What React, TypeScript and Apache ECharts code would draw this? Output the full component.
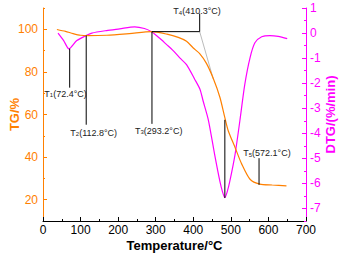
import React, { useEffect, useRef } from "react";
import * as echarts from "echarts";

// TG curve (temperature °C, mass %)
const tgT = [37, 60, 80, 100, 120, 170, 230, 289, 330, 360, 382, 400, 417, 435, 453, 471, 484, 493, 511, 529, 551, 577, 610, 648];
const tgV = [99.9, 99.0, 98.0, 97.2, 97.0, 97.2, 98.0, 98.9, 97.7, 96.2, 94.4, 91.2, 88.6, 84, 77, 68, 58.5, 52.4, 44.6, 36.7, 29.6, 27.3, 26.9, 26.5];

// DTG curve (temperature °C, %/min)
const dtgT = [40, 55, 69, 90, 116, 130, 169, 204, 244, 270, 289, 310, 329, 345, 364, 382, 404, 418, 426, 440, 457, 471, 478, 484, 490, 497, 511, 524, 537, 551, 564, 582, 604, 626, 650];
const dtgV = [0.0, -0.3, -0.63, -0.3, -0.09, 0.0, 0.1, 0.17, 0.25, 0.18, 0.05, -0.2, -0.46, -0.68, -0.99, -1.26, -1.85, -2.25, -2.7, -3.46, -4.86, -5.93, -6.35, -6.57, -6.35, -5.93, -4.86, -3.5, -2.06, -0.99, -0.39, -0.15, -0.1, -0.13, -0.22];

// Axis ticks
const xTicks = [0, 100, 200, 300, 400, 500, 600, 700];
const tgMajor = [20, 40, 60, 80, 100];
const tgMinor = [30, 50, 70, 90, 110];
const dtgMajor = [-7, -6, -5, -4, -3, -2, -1, 0, 1];
const dtgMinor = [-7.5, -6.5, -5.5, -4.5, -3.5, -2.5, -1.5, -0.5, 0.5];

// Annotation labels: [sub, text, labelT, labelTG]
const annoLabels: [string, string, number, number][] = [
  ["1", "(72.4°C)", 60, 70.2],
  ["2", "(112.8°C)", 135, 52.0],
  ["3", "(293.2°C)", 308, 52.8],
  ["4", "(410.3°C)", 410, 109.0],
  ["5", "(572.1°C)", 596, 42.3],
];
// Annotation leader lines as polylines in (T, TG) coordinates
const annoLines: [number, number][][] = [
  [[71, 90.9], [71, 72.6]],
  [[115, 97.1], [115, 55.2]],
  [[290, 55.6], [290, 98.9], [417, 98.9], [417, 107.4]],
  [[484, 57.5], [484, 20.8]],
  [[575, 39.5], [575, 27.0]],
];
const tangentLine: [number, number][] = [[417, 98.9], [453.5, 76.5]];

const ORANGE = "#FF8000";
const MAGENTA = "#FF00FF";
const FONT = "'Liberation Sans', Arial, sans-serif";

export default function App() {
  const ref = useRef<HTMLDivElement>(null);
  useEffect(() => {
    if (!ref.current) return;
    const chart = echarts.init(ref.current, null, { renderer: "svg" });
    const rich = {
      t: { fontSize: 9, fontFamily: FONT, color: "#222", verticalAlign: "bottom", lineHeight: 11 },
      s: { fontSize: 6, fontFamily: FONT, color: "#222", verticalAlign: "bottom", lineHeight: 8 },
    };
    const leader = (pts: [number, number][], color: string, z: number) => ({
      type: "line",
      yAxisIndex: 0,
      data: pts,
      symbol: "none",
      silent: true,
      lineStyle: { color, width: 1 },
      z,
    });
    const option: any = {
      animation: false,
      grid: { left: 43, right: 40, top: 8, bottom: 32, containLabel: false, outerBoundsMode: "none" },
      xAxis: {
        type: "value",
        min: 0,
        max: 700,
        interval: 100,
        axisLine: { onZero: false, lineStyle: { color: "#000", width: 1 } },
        axisTick: { inside: true, length: 4, lineStyle: { color: "#000" } },
        minorTick: { show: true, splitNumber: 2, length: 2, lineStyle: { color: "#000" } },
        axisLabel: { color: "#000", fontSize: 12, lineHeight: 11, fontFamily: FONT, margin: 3, customValues: xTicks },
        splitLine: { show: false },
        name: "Temperature/°C",
        nameLocation: "middle",
        nameGap: 17,
        nameMoveOverlap: false,
        nameTextStyle: { color: "#000", fontSize: 13, lineHeight: 14, fontWeight: "bold", fontFamily: FONT },
      },
      yAxis: [
        {
          type: "value",
          position: "left",
          min: 10,
          max: 110,
          axisLine: { show: true, onZero: false, lineStyle: { color: ORANGE, width: 1 } },
          axisTick: { show: true, inside: true, length: 4, customValues: tgMajor, lineStyle: { color: ORANGE } },
          axisLabel: { color: ORANGE, fontSize: 12, fontFamily: FONT, margin: 5, customValues: tgMajor },
          splitLine: { show: false },
          name: "TG/%",
          nameLocation: "middle",
          nameRotate: 90,
          nameGap: 22,
          nameMoveOverlap: false,
          nameTextStyle: { color: ORANGE, fontSize: 13, fontWeight: "bold", fontFamily: FONT },
        },
        {
          type: "value",
          position: "right",
          min: -7.5,
          max: 1,
          axisLine: { show: true, onZero: false, lineStyle: { color: MAGENTA, width: 1 } },
          axisTick: { show: true, inside: true, length: 4, customValues: dtgMajor, lineStyle: { color: MAGENTA } },
          axisLabel: { color: MAGENTA, fontSize: 12, fontFamily: FONT, margin: 4, customValues: dtgMajor },
          splitLine: { show: false },
          name: "DTG/(%/min)",
          nameLocation: "middle",
          nameRotate: 90,
          nameGap: 18,
          nameMoveOverlap: false,
          nameTextStyle: { color: MAGENTA, fontSize: 13, fontWeight: "bold", fontFamily: FONT },
        },
        {
          type: "value",
          position: "left",
          min: 10,
          max: 110,
          axisLine: { show: false, onZero: false },
          axisTick: { show: true, inside: true, length: 2, customValues: tgMinor, lineStyle: { color: ORANGE } },
          axisLabel: { show: false },
          splitLine: { show: false },
        },
        {
          type: "value",
          position: "right",
          min: -7.5,
          max: 1,
          axisLine: { show: false, onZero: false },
          axisTick: { show: true, inside: true, length: 2, customValues: dtgMinor, lineStyle: { color: MAGENTA } },
          axisLabel: { show: false },
          splitLine: { show: false },
        },
      ],
      series: [
        {
          type: "line",
          yAxisIndex: 1,
          data: dtgT.map((t, i) => [t, dtgV[i]]),
          smooth: 0.25,
          symbol: "none",
          lineStyle: { color: MAGENTA, width: 1.2 },
          z: 2,
        },
        {
          type: "line",
          yAxisIndex: 0,
          data: tgT.map((t, i) => [t, tgV[i]]),
          smooth: 0.25,
          symbol: "none",
          lineStyle: { color: ORANGE, width: 1.2 },
          z: 3,
          markPoint: {
            silent: true,
            symbol: "circle",
            symbolSize: 0,
            itemStyle: { color: "transparent" },
            data: annoLabels.map((a) => ({
              coord: [a[2], a[3]],
              label: {
                show: true,
                position: "inside",
                formatter: `{t|T}{s|${a[0]}}{t|${a[1]}}`,
                rich,
              },
            })),
          },
        },
        leader(tangentLine, "#bbbbbb", 1),
        ...annoLines.map((l) => leader(l, "#000", 4)),
      ],
    };
    chart.setOption(option);
    return () => chart.dispose();
  }, []);
  return <div ref={ref} style={{ width: 346, height: 253, position: "absolute", left: 0, top: 0 }} />;
}
